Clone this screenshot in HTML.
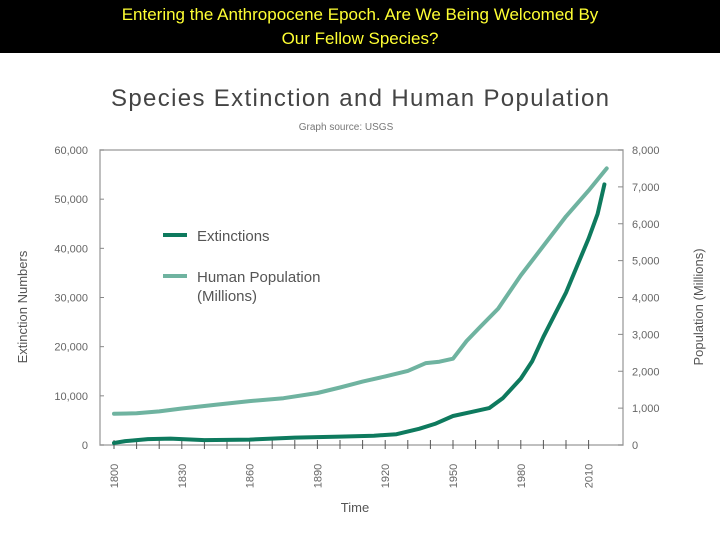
<!DOCTYPE html>
<html><head><meta charset="utf-8"><style>
body{margin:0;width:720px;height:540px;background:#fff;overflow:hidden;font-family:"Liberation Sans",sans-serif}
#bar{position:absolute;left:0;top:0;width:720px;height:53px;background:#000;color:#ffff33;text-align:center;font-size:17px;line-height:24px;padding-top:3px;box-sizing:border-box;font-family:"Comic Sans MS","Liberation Sans",sans-serif}
svg{position:absolute;left:0;top:0}
</style></head><body>
<div id="bar">Entering the Anthropocene Epoch. Are We Being Welcomed By<br>Our Fellow Species?</div>
<svg width="720" height="540" id="chart">
<text x="360" y="106" text-anchor="middle" font-size="24" textLength="498" fill="#444">Species Extinction and Human Population</text>
<text x="346" y="130" text-anchor="middle" font-size="10" fill="#777">Graph source: USGS</text>
<g id="axes"></g>
<g id="lines"></g>
<line x1="163" y1="235" x2="187" y2="235" stroke="#0e7a5e" stroke-width="4"/>
<text x="197" y="241" font-size="15" fill="#555">Extinctions</text>
<line x1="163" y1="276" x2="187" y2="276" stroke="#6fb3a0" stroke-width="4"/>
<text x="197" y="282" font-size="15" fill="#555">Human Population</text>
<text x="197" y="301" font-size="15" fill="#555">(Millions)</text>
<text transform="translate(27,307) rotate(-90)" text-anchor="middle" font-size="13" fill="#555">Extinction Numbers</text>
<text transform="translate(703,307) rotate(-90)" text-anchor="middle" font-size="13" fill="#555">Population (Millions)</text>
<text x="355" y="512" text-anchor="middle" font-size="13" fill="#555">Time</text>
</svg>
<script>
const extYears=[1800,1805,1815,1825,1840,1860,1880,1900,1915,1925,1935,1942,1950,1958,1966,1972,1980,1985,1990,1995,2000,2005,2010,2014,2017];
const extValues=[400,800,1200,1300,1000,1100,1500,1700,1900,2200,3300,4300,5900,6700,7500,9500,13500,17000,22000,26500,31000,36500,42000,47000,53000];
const popYears=[1800,1810,1820,1830,1845,1860,1875,1890,1900,1910,1920,1930,1938,1944,1950,1956,1962,1970,1980,1990,2000,2010,2018];
const popValues=[850,860,910,990,1090,1190,1270,1410,1560,1720,1860,2010,2220,2260,2340,2820,3200,3700,4600,5400,6200,6900,7500];
const leftTicks=[0,10000,20000,30000,40000,50000,60000];
const rightTicks=[0,1000,2000,3000,4000,5000,6000,7000,8000];
const xTickYears=[1800,1830,1860,1890,1920,1950,1980,2010];
const X0=100,X1=623,Y0=445,Y1=150;
const xs=y=>114+(y-1800)*2.26;
const yl=v=>Y0-(v/60000)*(Y0-Y1);
const yr=v=>Y0-(v/8000)*(Y0-Y1);
const NS="http://www.w3.org/2000/svg";
const ax=document.getElementById('axes'),ln=document.getElementById('lines');
function mk(tag,at,parent,txt){const e=document.createElementNS(NS,tag);for(const k in at)e.setAttribute(k,at[k]);if(txt!==undefined)e.textContent=txt;parent.appendChild(e);return e;}
let r=mk('rect',{x:X0,y:Y1,width:X1-X0,height:Y0-Y1,fill:'none',stroke:'#aaa','stroke-width':1.5},ax);


leftTicks.forEach(v=>{
 let t=mk('text',{x:88,y:yl(v)+4,'text-anchor':'end','font-size':11,fill:'#666'},ax,v.toLocaleString('en-US'));
 
 
 let l=mk('line',{x1:X0,x2:X0+4,y1:yl(v),y2:yl(v),stroke:'#888'},ax);
 
 
});
rightTicks.forEach(v=>{
 let t=mk('text',{x:632,y:yr(v)+4,'font-size':11,fill:'#666'},ax,v.toLocaleString('en-US'));
 
 
 let l=mk('line',{x1:X1-5,x2:X1,y1:yr(v),y2:yr(v),stroke:'#888'},ax);
 
 
});
for(let y=1800;y<=2010;y+=10){
 let l=mk('line',{x1:xs(y),x2:xs(y),y1:Y0-5,y2:Y0+4,stroke:'#555'},ax);
 
 
}
xTickYears.forEach(y=>{
 let t=mk('text',{transform:`translate(${xs(y)+4},476) rotate(-90)`,'text-anchor':'middle','font-size':11,fill:'#666'},ax,String(y));
 
 
});
function path(ys,vs,f){return ys.map((y,i)=>(i?'L':'M')+xs(y).toFixed(1)+','+f(vs[i]).toFixed(1)).join(' ');}
let p2=mk('path',{d:path(popYears,popValues,yr),fill:'none',stroke:'#6fb3a0','stroke-width':4,'stroke-linejoin':'round','stroke-linecap':'round'},ln);


let p1=mk('path',{d:path(extYears,extValues,yl),fill:'none',stroke:'#0e7a5e','stroke-width':4,'stroke-linejoin':'round','stroke-linecap':'round'},ln);


</script>
</body></html>
